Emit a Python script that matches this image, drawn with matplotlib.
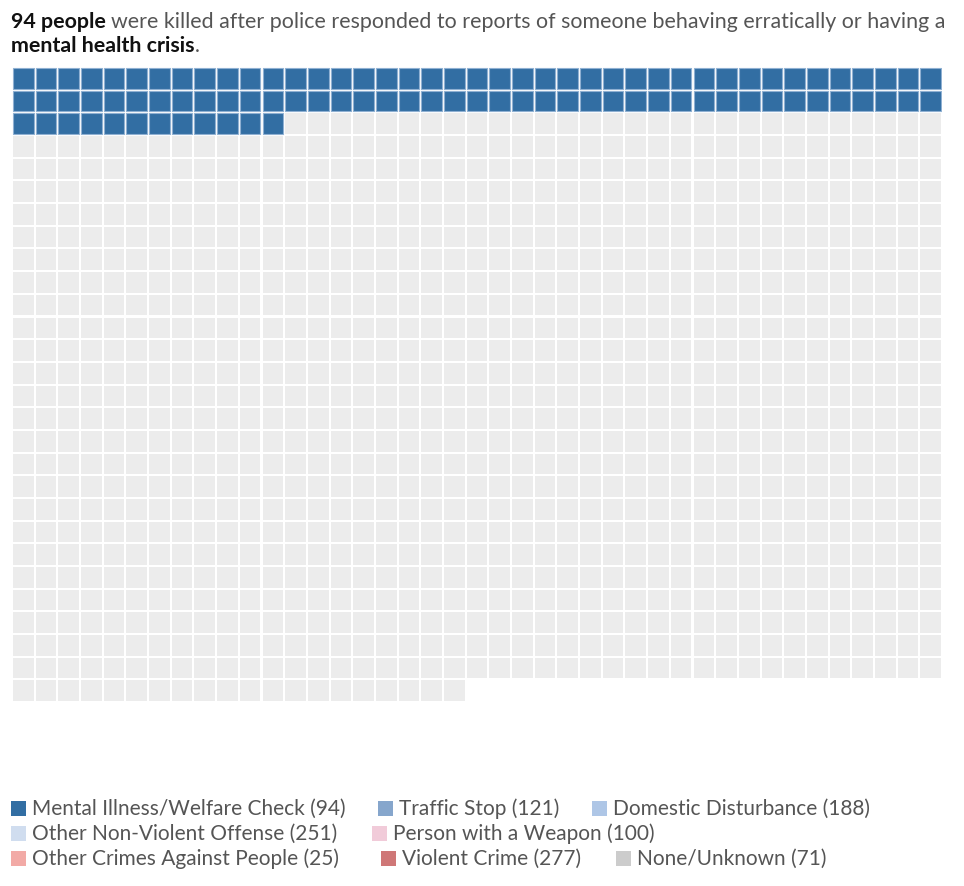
import matplotlib
matplotlib.use("Agg")
import matplotlib.pyplot as plt
from matplotlib.patches import Rectangle

categories = ["Mental Illness/Welfare Check", "Traffic Stop", "Domestic Disturbance",
              "Other Non-Violent Offense", "Person with a Weapon",
              "Other Crimes Against People", "Violent Crime", "None/Unknown"]
counts = [94, 121, 188, 251, 100, 25, 277, 71]
legend_colors = ["#326ea3", "#86a6cc", "#aec6e6", "#d0ddef", "#f1cbd9",
                 "#f2aaa6", "#cf7777", "#cccccc"]
highlight = "Mental Illness/Welfare Check"
ncols = 41

W, H = 964, 887
fig = plt.figure(figsize=(W/100, H/100), dpi=100)
plt.rcParams['font.family'] = ['Lato', 'DejaVu Sans']

total = sum(counts)
nrows = (total + ncols - 1) // ncols
grid_left, grid_top = 12, 68
pitch = 930 / ncols
ax = fig.add_axes([grid_left/W, 1 - (grid_top + nrows*pitch)/H, ncols*pitch/W, nrows*pitch/H])
ax.set_xlim(0, ncols)
ax.set_ylim(nrows, 0)
ax.axis("off")

hi_count = counts[categories.index(highlight)]
gap = 0.09
for i in range(total):
    r, c = divmod(i, ncols)
    if i < hi_count:
        ax.add_patch(Rectangle((c + gap/2, r + gap/2), 1 - gap, 1 - gap,
                               facecolor="#326ea3", edgecolor="#8fb0d2", linewidth=0.8))
    else:
        ax.add_patch(Rectangle((c + gap/2, r + gap/2), 1 - gap, 1 - gap,
                               facecolor="#ececec", edgecolor="none"))

# Title
renderer = fig.canvas.get_renderer()
fs_title = 15.4
fs_leg = 15
def px(x, y):
    return x / W, 1 - y / H
t1 = fig.text(*px(11, 22), "94 people", fontsize=fs_title, fontweight="bold", color="#111111", va="center")
bb = t1.get_window_extent(renderer)
fig.text(bb.x1 / W + 0.005, 1 - 22 / H,
         "were killed after police responded to reports of someone behaving erratically or having a",
         fontsize=fs_title, color="#555555", va="center")
t3 = fig.text(*px(11, 46), "mental health crisis", fontsize=fs_title, fontweight="bold", color="#111111", va="center")
bb3 = t3.get_window_extent(renderer)
fig.text(bb3.x1 / W, 1 - 46 / H, ".", fontsize=fs_title, color="#555555", va="center")

# Legend
legend_pos = [(11, 809), (378, 809), (592, 809),
              (11, 834), (372, 834),
              (11, 859), (381, 859), (616, 859)]
for (x, y), name, n, col in zip(legend_pos, categories, counts, legend_colors):
    fig.patches.append(Rectangle((x / W, 1 - (y + 7.5) / H), 15 / W, 15 / H,
                                 facecolor=col, edgecolor="none", transform=fig.transFigure))
    fig.text((x + 21) / W, 1 - y / H, f"{name} ({n})", fontsize=fs_leg, color="#555555", va="center")

fig.savefig("out.png", dpi=100)
